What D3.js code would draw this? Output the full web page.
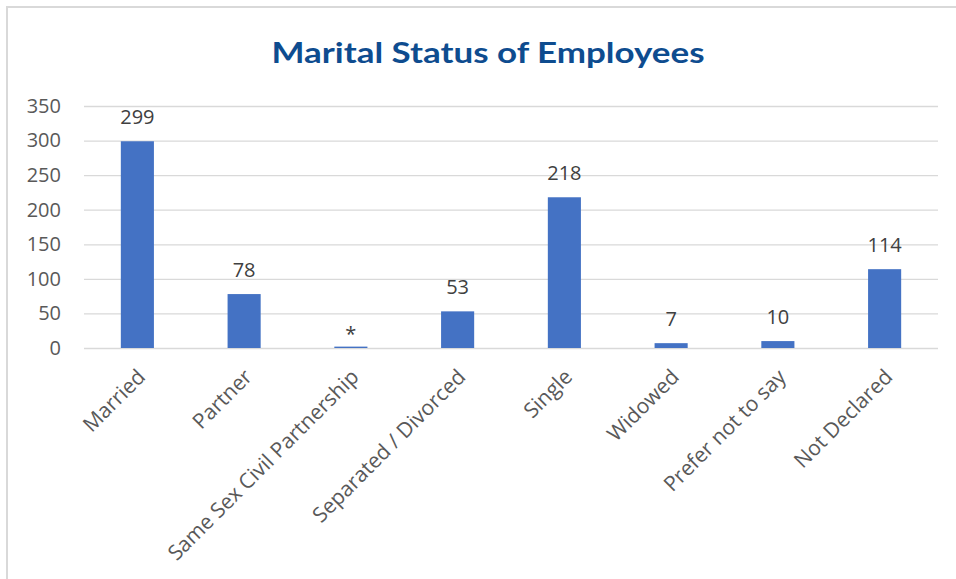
<!DOCTYPE html>
<html>
<head>
<meta charset="utf-8">
<script src="https://cdn.jsdelivr.net/npm/d3@7"></script>
<style>
  body { margin: 0; background: #fff; }
  svg { display: block; }
</style>
</head>
<body>
<svg id="chart" width="956" height="579"></svg>
<script>
// data
const categories = ["Married", "Partner", "Same Sex Civil Partnership", "Separated / Divorced",
                    "Single", "Widowed", "Prefer not to say", "Not Declared"];
const values = [299, 78, 2, 53, 218, 7, 10, 114];
const labels = ["299", "78", "*", "53", "218", "7", "10", "114"];
const yTicks = [0, 50, 100, 150, 200, 250, 300, 350];

const W = 956, H = 579;
const margin = { left: 84, right: 18, top: 106, bottom: 231 };
const FONT = "'Open Sans', 'Noto Sans', sans-serif";

const svg = d3.select("#chart");

// chart frame
svg.append("rect")
    .attr("x", 7).attr("y", 7)
    .attr("width", W + 10).attr("height", H + 10)
    .attr("fill", "none").attr("stroke", "#d9d9d9").attr("stroke-width", 2);

svg.append("text")
    .attr("x", 488).attr("y", 63)
    .attr("text-anchor", "middle")
    .attr("font-family", "Lato, 'Open Sans', sans-serif")
    .attr("font-weight", "bold")
    .attr("font-size", 29)
    .attr("fill", "#0e4c8f")
    .attr("textLength", 433).attr("lengthAdjust", "spacingAndGlyphs")
    .text("Marital Status of Employees");

const x = d3.scaleBand()
    .domain(categories)
    .range([margin.left, W - margin.right])
    .paddingInner(0.69).paddingOuter(0.345);

const y = d3.scaleLinear()
    .domain([0, 350])
    .range([H - margin.bottom, margin.top]);

// gridlines + y labels
const yAxis = svg.append("g")
    .attr("transform", "translate(" + [margin.left, 0] + ")")
    .call(d3.axisLeft(y).tickValues(yTicks)
      .tickSize(-(W - margin.left - margin.right)).tickPadding(23));
yAxis.select(".domain").remove();
yAxis.selectAll(".tick line").attr("stroke", "#d9d9d9").attr("stroke-width", 1.3);
yAxis.selectAll(".tick text")
    .attr("font-family", FONT).attr("font-size", 20).attr("fill", "#595959");

// bars
svg.append("g").selectAll("rect")
  .data(values)
  .join("rect")
    .attr("x", (d, i) => x(categories[i]))
    .attr("y", d => y(d))
    .attr("width", x.bandwidth())
    .attr("height", d => y(0) - y(d))
    .attr("fill", "#4472c4");

// value labels
svg.append("g").selectAll("text")
  .data(values)
  .join("text")
    .attr("x", (d, i) => x(categories[i]) + x.bandwidth() / 2)
    .attr("y", (d, i) => y(d) - (labels[i] === "*" ? 6 : 17))
    .attr("text-anchor", "middle")
    .attr("font-family", FONT).attr("font-size", 20).attr("fill", "#404040")
    .text((d, i) => labels[i]);

// category labels
svg.append("g").selectAll("text")
  .data(categories)
  .join("text")
    .attr("transform", d => "translate(" + [x(d) + x.bandwidth() / 2 + 4, y(0) + 25] + ") rotate(-45)")
    .attr("text-anchor", "end")
    .attr("dy", "0.35em")
    .attr("font-family", FONT).attr("font-size", 21).attr("fill", "#595959")
    .text(d => d);
</script>
</body>
</html>
